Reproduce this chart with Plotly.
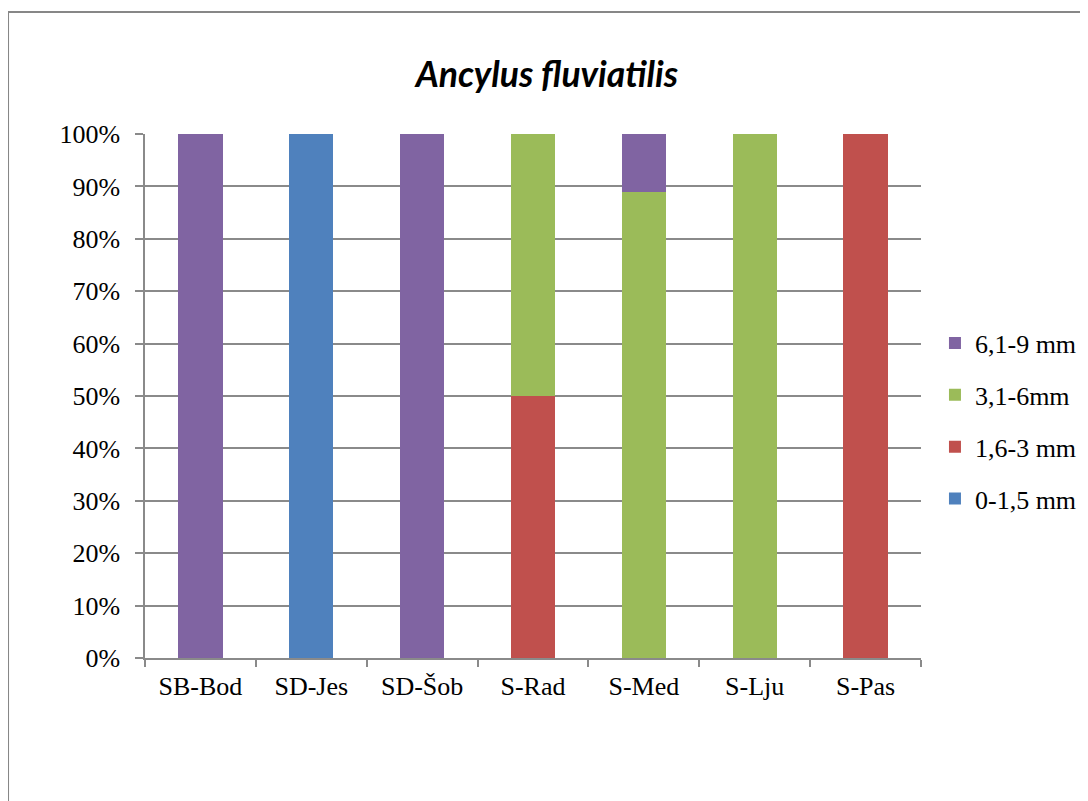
import plotly.graph_objects as go

categories = ["SB-Bod", "SD-Jes", "SD-Šob", "S-Rad", "S-Med", "S-Lju", "S-Pas"]
s_0_15 = [0, 100, 0, 0, 0, 0, 0]
s_16_3 = [0, 0, 0, 50, 0, 0, 100]
s_31_6 = [0, 0, 0, 50, 88.9, 100, 0]
s_61_9 = [100, 0, 100, 0, 11.1, 0, 0]

series = [
    ("0-1,5 mm", s_0_15, "#4F81BD", 4),
    ("1,6-3 mm", s_16_3, "#C0504D", 3),
    ("3,1-6mm", s_31_6, "#9BBB59", 2),
    ("6,1-9 mm", s_61_9, "#8064A2", 1),
]

fig = go.Figure()
for name, vals, col, rank in series:
    fig.add_trace(go.Bar(x=categories, y=vals, name=name, legendgroup=name, legendrank=rank,
                         marker=dict(color=col, line=dict(width=0))))

grid = "#8a8a8a"
fig.update_layout(
    width=1080, height=793,
    margin=dict(l=137, r=167, t=126, b=143, autoexpand=False),
    barmode="stack", bargap=0.6,
    paper_bgcolor="white", plot_bgcolor="white",
    font=dict(family="Liberation Serif", size=26, color="black"),
    title=dict(text="<b><i>Ancylus fluviatilis</i></b>", x=0.499, xanchor="center", y=0.9155, yanchor="middle",
               font=dict(family="Lato", size=35.5, color="black")),
    xaxis=dict(showline=True, linecolor=grid, linewidth=1.5, ticks="outside", tickson="boundaries",
               ticklen=7, tickcolor=grid, tickwidth=1.5, showgrid=False, ticklabelstandoff=4),
    yaxis=dict(range=[0, 100], dtick=10, ticksuffix="%", showline=True, linecolor=grid, linewidth=1.5,
               ticks="outside", ticklen=8, tickcolor=grid, tickwidth=1.5, showgrid=True, gridcolor=grid,
               gridwidth=1.5, zeroline=False, ticklabelstandoff=10),
    legend=dict(traceorder="grouped", x=1.018, xanchor="left", y=0.452, yanchor="middle",
                font=dict(family="Liberation Serif", size=26), tracegroupgap=15, itemwidth=30),
    shapes=[dict(type="rect", xref="paper", yref="paper", x0=-0.1765, y0=-0.6, x1=1.3, y1=1.2328,
                 line=dict(color="#878787", width=2), fillcolor="rgba(0,0,0,0)", layer="below")],
)
fig.write_html("out.html")
